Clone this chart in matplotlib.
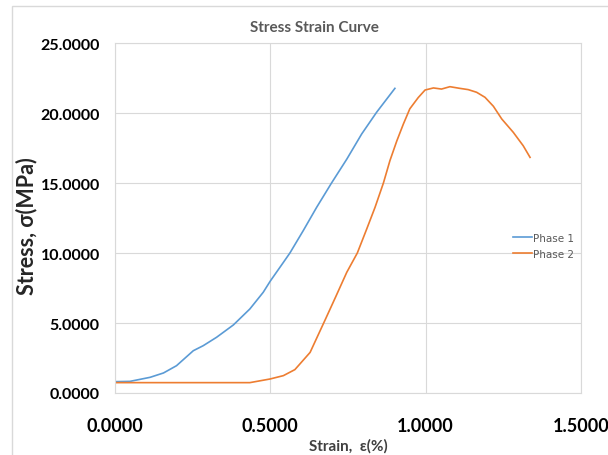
import matplotlib
matplotlib.use("Agg")
import matplotlib.pyplot as plt
from matplotlib.patches import Rectangle

phase1_strain = [0, 0.048, 0.113, 0.156, 0.198, 0.252, 0.284, 0.327, 0.381, 0.434, 0.477, 0.5,
                 0.542, 0.563, 0.606, 0.649, 0.697, 0.746, 0.794, 0.842, 0.901]
phase1_stress = [0.81, 0.83, 1.12, 1.43, 1.95, 3.02, 3.38, 3.98, 4.86, 6.0, 7.19, 8.0,
                 9.33, 10.0, 11.6, 13.26, 15.0, 16.7, 18.5, 20.05, 21.76]

phase2_strain = [0, 0.434, 0.499, 0.542, 0.579, 0.595, 0.628, 0.678, 0.711, 0.746, 0.780, 0.810,
                 0.837, 0.864, 0.885, 0.907, 0.928, 0.949, 0.976, 0.998, 1.025, 1.051, 1.078,
                 1.110, 1.137, 1.164, 1.191, 1.218, 1.245, 1.282, 1.314, 1.336]
phase2_stress = [0.74, 0.74, 1.0, 1.24, 1.67, 2.07, 2.9, 5.3, 6.9, 8.62, 10.0, 11.7,
                 13.26, 15.0, 16.6, 18.0, 19.2, 20.3, 21.1, 21.64, 21.79, 21.71, 21.88,
                 21.76, 21.67, 21.48, 21.12, 20.48, 19.57, 18.62, 17.66, 16.83]

x_ticks = [0.0, 0.5, 1.0, 1.5]
y_ticks = [0, 5, 10, 15, 20, 25]

title = "Stress Strain Curve"
xlabel = "Strain,  ε(%)"
ylabel = "Stress, σ(MPa)"
series_names = ["Phase 1", "Phase 2"]

W, H = 608, 456
fig = plt.figure(figsize=(W / 100, H / 100), dpi=100)
fig.patch.set_facecolor("white")
fig.patches.append(Rectangle((12 / W, -0.1), 1.2, 1.1 - 7 / H, transform=fig.transFigure,
                             fill=False, edgecolor="#d9d9d9", linewidth=1.0))

ax = fig.add_axes([115 / W, 1 - 394 / H, (581 - 115) / W, (394 - 44) / H])
blue = "#5B9BD5"
orange = "#ED7D31"
ax.plot(phase1_strain, phase1_stress, color=blue, linewidth=1.2, label=series_names[0])
ax.plot(phase2_strain, phase2_stress, color=orange, linewidth=1.2, label=series_names[1])

ax.set_xlim(0, 1.5)
ax.set_ylim(0, 25)
ax.set_xticks(x_ticks)
ax.set_yticks(y_ticks)
ax.set_xticklabels([f"{v:.4f}" for v in x_ticks], fontsize=13, fontweight="bold", family="Lato")
ax.set_yticklabels([f"{v:.4f}" for v in y_ticks], fontsize=11.5, fontweight="bold", family="Lato")
ax.tick_params(axis="both", length=0)
ax.tick_params(axis="x", pad=17)
ax.tick_params(axis="y", pad=11)
ax.grid(True, color="#d9d9d9", linewidth=0.8)
ax.set_axisbelow(True)
for s in ax.spines.values():
    s.set_color("#d9d9d9")
    s.set_linewidth(0.8)

fig.text(314 / W, 1 - 28 / H, title, ha="center", va="center", fontsize=11,
         fontweight="bold", color="#595959", family="Lato")
fig.text(348 / W, 1 - 446 / H, xlabel, ha="center", va="center", fontsize=11,
         fontweight="bold", color="#404040", family="Lato")
fig.text(27 / W, 1 - 226 / H, ylabel, ha="center", va="center", rotation=90, fontsize=15.5,
         fontweight="bold", color="#262626", family="Lato")

leg = ax.legend(loc="center left", bbox_to_anchor=((508 - 115) / (581 - 115), (394 - 247) / 350),
                frameon=False, fontsize=7.5, handlelength=1.8, handletextpad=0.1,
                labelspacing=0.6, borderpad=0)
for t in leg.get_texts():
    t.set_color("#595959")

fig.savefig("out.png", dpi=100)
